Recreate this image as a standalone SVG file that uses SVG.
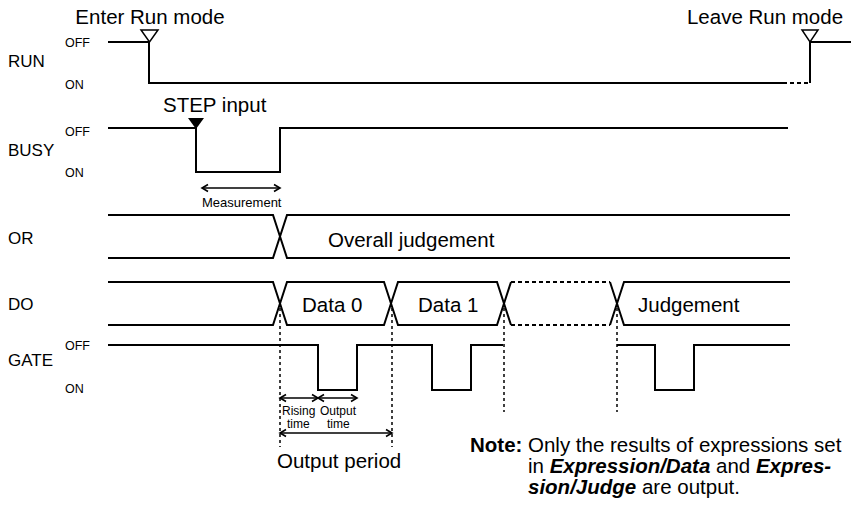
<svg xmlns="http://www.w3.org/2000/svg" width="852" height="529" viewBox="0 0 852 529">
<style>
text{font-family:"Liberation Sans",Arial,sans-serif;fill:#000}
.w{fill:none;stroke:#000;stroke-width:2;stroke-linejoin:miter}
.wd{fill:none;stroke:#000;stroke-width:2;stroke-dasharray:4,3}
.dot{fill:none;stroke:#000;stroke-width:1.5;stroke-dasharray:3,3}
.arr{fill:none;stroke:#000;stroke-width:1.6;marker-start:url(#ah);marker-end:url(#ah)}
.sig{font-size:17px}
.st{font-size:12.5px}
.big{font-size:20.5px}
.sm{font-size:13px}
.xs{font-size:12px}
.bi{font-weight:bold;font-style:italic}
</style>
<defs>
<marker id="ah" markerUnits="userSpaceOnUse" markerWidth="10" markerHeight="10" refX="8" refY="5" orient="auto-start-reverse">
<path d="M2,1.5 L8,5 L2,8.5" fill="none" stroke="#000" stroke-width="1.6"/>
</marker>
</defs>

<g id="run">
<text class="sig" x="8" y="67">RUN</text>
<text class="st" x="65" y="47">OFF</text>
<text class="st" x="65" y="89">ON</text>
<path class="w" d="M108,42 H149 V83 H783"/>
<path class="wd" d="M783,83 H810"/>
<path class="w" d="M810,83 V42 H851"/>
<path d="M141,30 H158 L149.5,42 Z" fill="#fff" stroke="#000" stroke-width="1.5"/>
<path d="M802,30 H818 L810,42 Z" fill="#fff" stroke="#000" stroke-width="1.5"/>
<text class="big" x="150" y="24" text-anchor="middle">Enter Run mode</text>
<text class="big" x="765" y="24" text-anchor="middle">Leave Run mode</text>
</g>

<g id="busy">
<text class="sig" x="8" y="156">BUSY</text>
<text class="st" x="65" y="136">OFF</text>
<text class="st" x="65" y="177">ON</text>
<path class="w" d="M108,128 H196 V172 H280 V128 H788"/>
<path d="M188,118 H204 L196,129 Z" fill="#000"/>
<text class="big" x="163" y="112">STEP input</text>
</g>

<g id="or">
<text class="sig" x="8" y="244">OR</text>
<path class="w" d="M108,215 H273 L287,258 H790"/>
<path class="w" d="M108,258 H273 L287,215 H790"/>
<text class="big" x="328" y="247">Overall judgement</text>
</g>

<g id="do">
<text class="sig" x="8" y="310">DO</text>
<path class="w" d="M108,282 H273 L287,325 H384 L398,282 H497 L511,325"/>
<path class="w" d="M108,325 H273 L287,282 H384 L398,325 H497 L511,282"/>
<path class="wd" d="M511,282 H610 M511,325 H610"/>
<path class="w" d="M610,282 L624,325 H790 M610,325 L624,282 H790"/>
<text class="big" x="302" y="312">Data 0</text>
<text class="big" x="418" y="312">Data 1</text>
<text class="big" x="638" y="312">Judgement</text>
</g>

<g id="gate">
<text class="sig" x="8" y="366">GATE</text>
<text class="st" x="65" y="350">OFF</text>
<text class="st" x="65" y="393">ON</text>
<path class="w" d="M108,345 H318 V390 H357 V345 H432 V390 H471 V345 H503"/>
<path class="w" d="M617,345 H655 V390 H694 V345 H790"/>
</g>

<g id="connectors">
<path class="dot" d="M280,308 V447 M392,308 V447 M504,308 V412 M617,308 V412"/>
<path class="arr" d="M202,188 H280"/>
<path class="arr" d="M280,398 H318"/>
<path class="arr" d="M318,398 H357"/>
<path class="arr" d="M280,433 H392"/>
</g>

<g id="annotations">
<text class="sm" x="202" y="207">Measurement</text>
<text class="xs" x="282" y="415">Rising</text>
<text class="xs" x="287" y="428">time</text>
<text class="xs" x="320" y="415">Output</text>
<text class="xs" x="327" y="428">time</text>
<text class="big" x="277" y="468">Output period</text>
</g>

<g id="note">
<text class="big" x="470" y="452" font-weight="bold">Note:</text>
<text class="big" x="528" y="452">Only the results of expressions set</text>
<text class="big" x="528" y="473">in <tspan class="bi">Expression/Data</tspan> and <tspan class="bi">Expres-</tspan></text>
<text class="big" x="528" y="494"><tspan class="bi">sion/Judge</tspan> are output.</text>
</g>
</svg>
